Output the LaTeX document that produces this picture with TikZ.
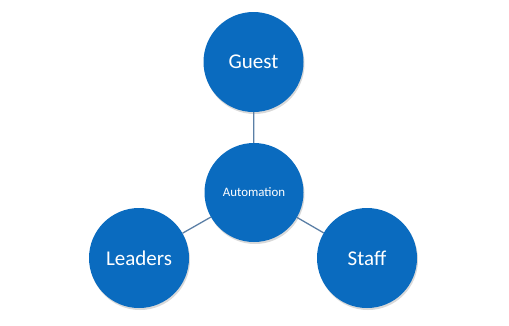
\documentclass[tikz,border=0pt]{standalone}
\usepackage{fontspec}
\setmainfont{Carlito}
\usetikzlibrary{shadows}
\definecolor{circblue}{HTML}{0A6BBF}
\definecolor{linkblue}{HTML}{5B7FA6}
\begin{document}
\begin{tikzpicture}[x=1bp,y=-1bp,
  bubble/.style={circle,fill=circblue,text=white,minimum size=100bp,inner sep=0pt,
    drop shadow={shadow xshift=1bp,shadow yshift=-2bp,opacity=0.25,fill=black!60}},
  link/.style={draw=linkblue,line width=1.3bp}]
\useasboundingbox (0,0) rectangle (509,325);
\node[bubble,font=\fontsize{21bp}{24bp}\selectfont] (guest) at (253.5,62) {Guest};
\node[bubble,minimum size=99bp,font=\fontsize{12.9bp}{15bp}\selectfont] (auto) at (254,192.5) {Automation};
\node[bubble,font=\fontsize{21bp}{24bp}\selectfont] (lead) at (139,258) {Leaders};
\node[bubble,font=\fontsize{21bp}{24bp}\selectfont] (staff) at (367,258) {Staff};
\begin{scope}[on background layer/.try]
\end{scope}
\draw[link] (guest) -- (auto);
\draw[link] (lead) -- (auto);
\draw[link] (staff) -- (auto);
\end{tikzpicture}
\end{document}
